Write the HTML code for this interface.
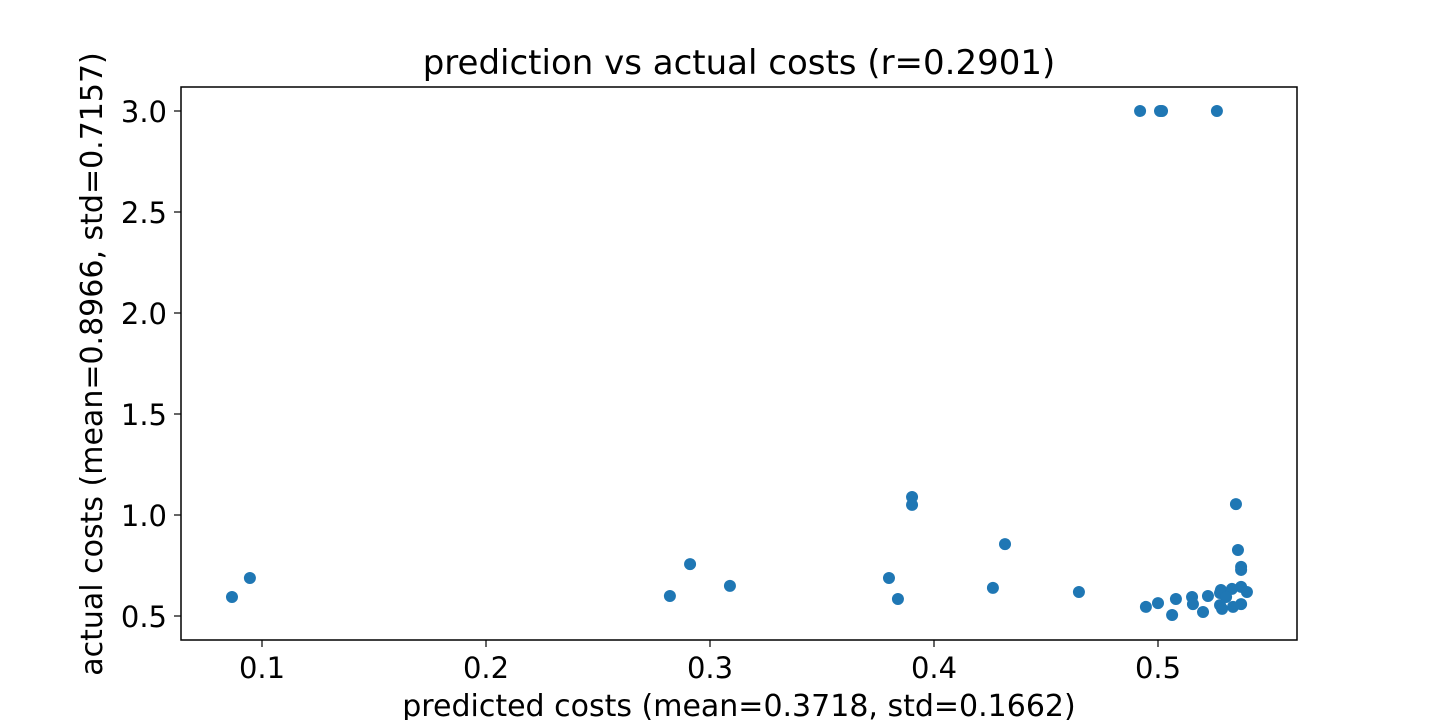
<!DOCTYPE html>
<html><head><meta charset="utf-8"><style>
html,body{margin:0;padding:0;background:#fff;}
svg{display:block;font-family:"DejaVu Sans","Liberation Sans",sans-serif;}
</style></head><body>
<svg id="chart" width="1442" height="720">
<rect x="0" y="0" width="1442" height="720" fill="#fff"/>
<text x="739" y="74" font-size="34" text-anchor="middle">prediction vs actual costs (r=0.2901)</text>
<g id="points"></g>
<g id="axes"></g>
<rect x="181" y="87" width="1116" height="553" fill="none" stroke="#000" stroke-width="1.5"/>
<text x="739" y="716" font-size="30" text-anchor="middle">predicted costs (mean=0.3718, std=0.1662)</text>
<text transform="translate(102,364) rotate(-90)" font-size="30" text-anchor="middle">actual costs (mean=0.8966, std=0.7157)</text>
</svg>
<script>
const xTicks = [0.1, 0.2, 0.3, 0.4, 0.5];
const xTickLabels = ["0.1", "0.2", "0.3", "0.4", "0.5"];
const yTicks = [0.5, 1.0, 1.5, 2.0, 2.5, 3.0];
const yTickLabels = ["0.5", "1.0", "1.5", "2.0", "2.5", "3.0"];
const predicted = [0.0866,0.0946,0.2821,0.2911,0.3089,0.3799,0.3839,0.3902,0.3902,0.4263,0.4317,0.4647,0.4920,0.5009,0.5018,0.5263,
0.5348,0.5357,0.5371,0.5371,0.5371,0.5397,0.5330,0.5281,0.5277,0.5304,0.5223,0.5152,0.5156,0.5080,0.5000,0.4946,0.5063,0.5201,0.5277,0.5286,0.5335,0.5371];
const actual = [0.594,0.688,0.599,0.757,0.649,0.688,0.584,1.089,1.050,0.639,0.856,0.619,3.0,3.0,3.0,3.0,
1.054,0.827,0.743,0.728,0.644,0.619,0.634,0.629,0.614,0.594,0.599,0.594,0.559,0.584,0.564,0.545,0.505,0.520,0.554,0.535,0.545,0.559];
const NS = "http://www.w3.org/2000/svg";
function xs(v){ return 262 + (v - 0.1) * 2240; }
function ys(v){ return 616 - (v - 0.5) * 202; }
const axes = document.getElementById('axes');
xTicks.forEach((t,i)=>{
  const l = document.createElementNS(NS,'line');
  l.setAttribute('x1',xs(t)); l.setAttribute('x2',xs(t));
  l.setAttribute('y1',640); l.setAttribute('y2',647);
  l.setAttribute('stroke','#000'); l.setAttribute('stroke-width','1.2');
  
  
  axes.appendChild(l);
  const tx = document.createElementNS(NS,'text');
  tx.setAttribute('x',xs(t)); tx.setAttribute('y',678);
  tx.setAttribute('font-size','29'); tx.setAttribute('text-anchor','middle');
  tx.textContent = xTickLabels[i];
  
  
  axes.appendChild(tx);
});
yTicks.forEach((t,i)=>{
  const l = document.createElementNS(NS,'line');
  l.setAttribute('x1',174); l.setAttribute('x2',181);
  l.setAttribute('y1',ys(t)); l.setAttribute('y2',ys(t));
  l.setAttribute('stroke','#000'); l.setAttribute('stroke-width','1.2');
  
  
  axes.appendChild(l);
  const tx = document.createElementNS(NS,'text');
  tx.setAttribute('x',167); tx.setAttribute('y',ys(t)+11);
  tx.setAttribute('font-size','29'); tx.setAttribute('text-anchor','end');
  tx.textContent = yTickLabels[i];
  
  
  axes.appendChild(tx);
});
const pts = document.getElementById('points');
predicted.forEach((p,i)=>{
  const c = document.createElementNS(NS,'circle');
  c.setAttribute('cx',xs(p)); c.setAttribute('cy',ys(actual[i]));
  c.setAttribute('r',6); c.setAttribute('fill','#1f77b4');
  
  
  pts.appendChild(c);
});
</script>
</body></html>
